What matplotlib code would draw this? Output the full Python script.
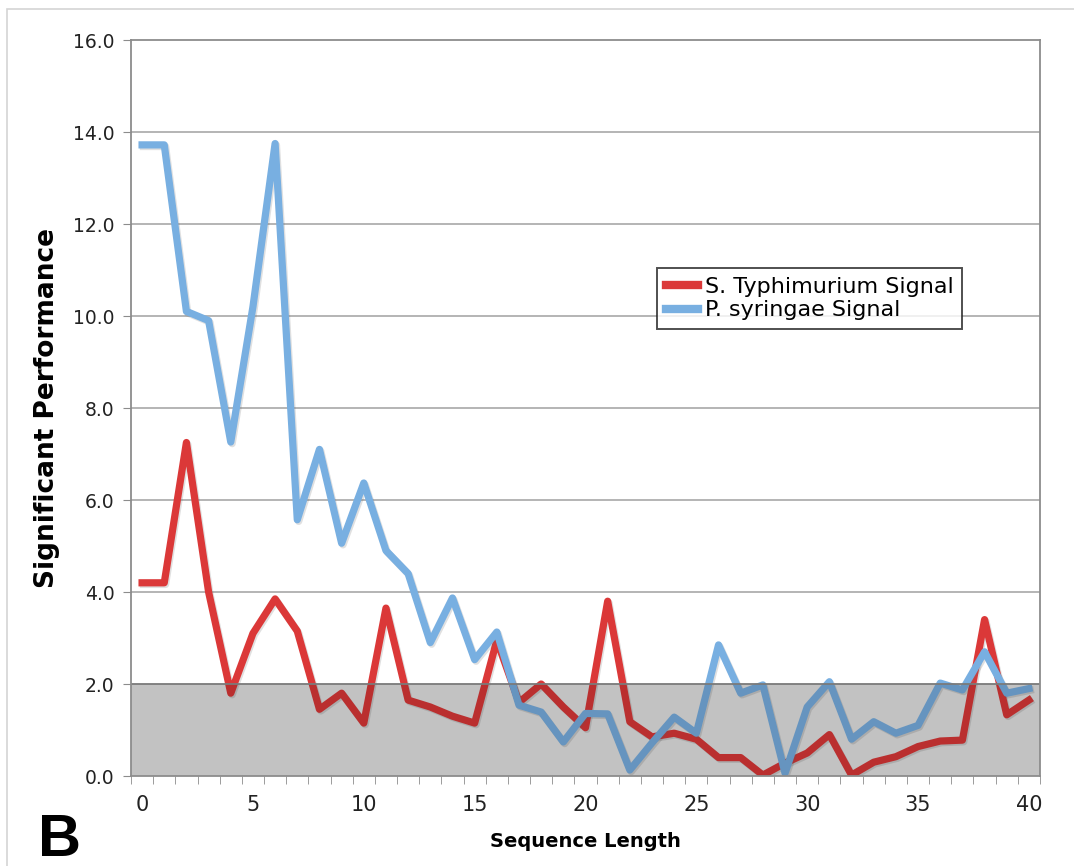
import numpy as np
import matplotlib
matplotlib.use("Agg")
import matplotlib.pyplot as plt
import matplotlib.patheffects as pe
from matplotlib.patches import Rectangle

# values (sequence length 0..40)
seq_length = list(range(41))
typhimurium = [4.2, 4.2, 7.25, 4.0, 1.8, 3.1, 3.85, 3.15, 1.45, 1.8,
               1.15, 3.65, 1.65, 1.5, 1.3, 1.15, 2.95, 1.6, 2.0, 1.5,
               1.05, 3.8, 1.18, 0.85, 0.93, 0.8, 0.4, 0.4, 0.02, 0.28,
               0.5, 0.9, 0.02, 0.3, 0.42, 0.64, 0.76, 0.78, 3.4, 1.33,
               1.65]
syringae = [13.72, 13.72, 10.1, 9.9, 7.26, 10.2, 13.75, 5.57, 7.1, 5.06,
            6.37, 4.9, 4.4, 2.9, 3.87, 2.53, 3.13, 1.54, 1.39, 0.74,
            1.36, 1.35, 0.13, 0.72, 1.28, 0.93, 2.85, 1.8, 1.98, 0.06,
            1.5, 2.05, 0.8, 1.18, 0.93, 1.1, 2.02, 1.87, 2.7, 1.8,
            1.9]
x_ticks = [0, 5, 10, 15, 20, 25, 30, 35, 40]
y_ticks = [0, 2, 4, 6, 8, 10, 12, 14, 16]
threshold = 2.0

fig = plt.figure(figsize=(10.74, 8.66), dpi=100)
ax = fig.add_axes([131 / 1074, 1 - 776 / 866, 909 / 1074, 736 / 866])

# light frame round the whole panel
fig.patches.append(Rectangle((7 / 1074, -0.05), 2, 1 - 9 / 866 + 0.05,
                             transform=fig.transFigure, fill=False,
                             ec="#d4d4d4", lw=1.2))

ax.set_xlim(-0.5, 40.5)
ax.set_ylim(0, 16)

# grey band below the significance threshold: light fill under the lines,
# a thin dark veil over them so the lines darken inside the band
ax.axhspan(0, threshold, color="#e4e4e4", zorder=0)
ax.axhspan(0, threshold, color="black", alpha=0.15, lw=0, zorder=5)
ax.axhline(threshold, color="#7a7a7a", lw=1.3, zorder=6)
for yv in y_ticks[2:-1]:
    ax.axhline(yv, color="#a0a0a0", lw=1.1, zorder=1)

shadow = [pe.SimpleLineShadow(offset=(1, -1.2), shadow_color="#666666", alpha=0.2),
          pe.Normal()]
ax.plot(seq_length, typhimurium, color="#db3838", lw=5.2, label="S. Typhimurium Signal",
        solid_joinstyle="round", path_effects=shadow, zorder=3)
ax.plot(seq_length, syringae, color="#78afe1", lw=5.2, label="P. syringae Signal",
        solid_joinstyle="round", path_effects=shadow, zorder=4)

for s in ["left", "right", "top", "bottom"]:
    ax.spines[s].set_color("#8c8c8c")
    ax.spines[s].set_linewidth(1.3)
    ax.spines[s].set_zorder(7)

ax.set_yticks(y_ticks)
ax.set_yticklabels([f"{v:.1f}" for v in y_ticks], fontsize=13.5, color="#222222")
ax.tick_params(axis="y", length=6, color="#8c8c8c", direction="out", pad=6)

ax.set_xticks(x_ticks)
ax.set_xticklabels([str(v) for v in x_ticks], fontsize=15, color="#222222")
ax.set_xticks(np.arange(-0.5, 41, 1), minor=True)
ax.tick_params(axis="x", which="major", length=0, pad=14)
ax.tick_params(axis="x", which="minor", length=6, color="#8c8c8c", direction="out")

ax.set_xlabel("Sequence Length", fontsize=14, fontweight="bold", labelpad=12)
ax.set_ylabel("Significant Performance", fontsize=19, fontweight="bold", labelpad=9)

leg = ax.legend(loc="upper left", bbox_to_anchor=(0.579, 0.690), borderaxespad=0,
                fontsize=16, frameon=True, fancybox=False, handlelength=1.45,
                handletextpad=0.28, borderpad=0.4, labelspacing=0.15)
leg.get_frame().set_edgecolor("#222222")
leg.get_frame().set_linewidth(1.4)
leg.set_zorder(8)
for line in leg.get_lines():
    line.set_linewidth(6)
    line.set_path_effects([])

fig.text(38 / 1074, 1 - 856 / 866, "B", fontsize=43, fontweight="bold",
         family=["Liberation Sans", "DejaVu Sans"], ha="left", va="baseline")

fig.savefig("out.png", dpi=100)
